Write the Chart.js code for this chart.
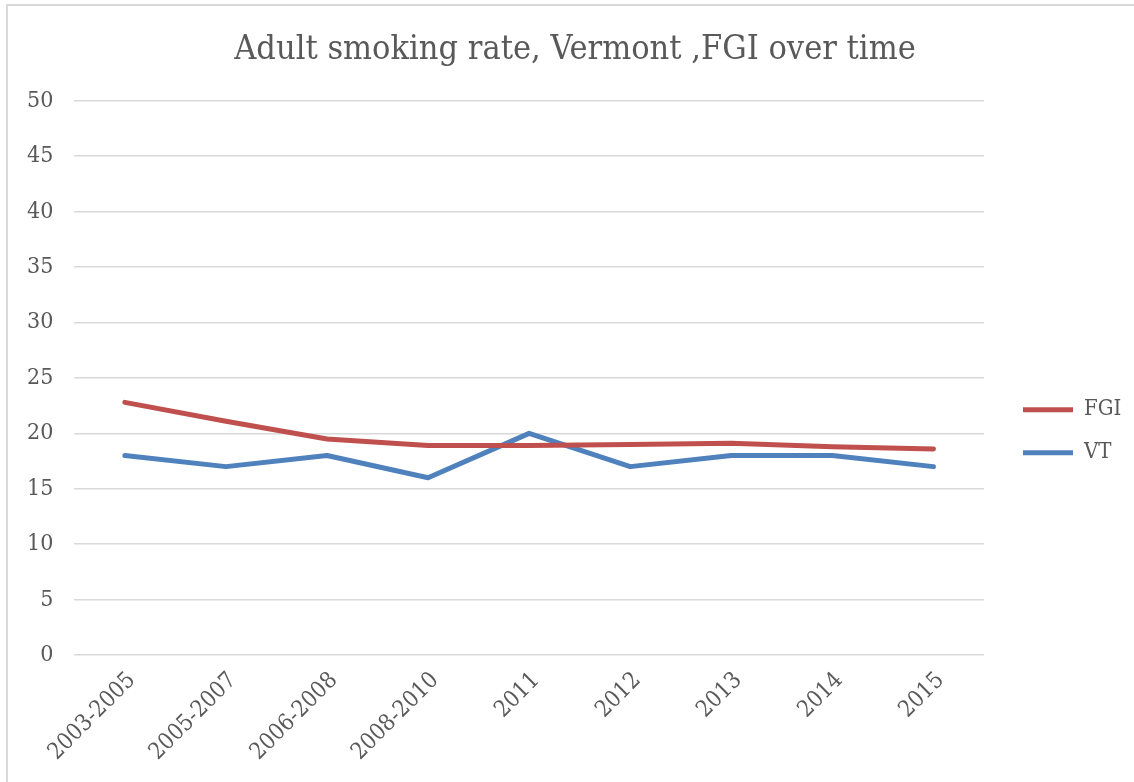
<!DOCTYPE html>
<html>
<head>
<meta charset="utf-8">
<script src="https://cdn.jsdelivr.net/npm/chart.js@4/dist/chart.umd.min.js"></script>
<style>
  html, body { margin: 0; padding: 0; background: #fff; }
  #wrap { position: absolute; left: 0; top: 0; width: 1134px; height: 782px; }
</style>
</head>
<body>
<div id="wrap"><canvas id="smoking_chart"></canvas></div>
<script>
// chart data
var periods = ["2003-2005", "2005-2007", "2006-2008", "2008-2010", "2011", "2012", "2013", "2014", "2015"];
var fgiRates = [22.8, 21.1, 19.5, 18.9, 18.9, 19.0, 19.1, 18.8, 18.6];
var vtRates = [18, 17, 18, 16, 20, 17, 18, 18, 17];
var yTicks = [0, 5, 10, 15, 20, 25, 30, 35, 40, 45, 50];

var serif = "'DejaVu Serif Condensed', 'Liberation Serif', serif";
var grey = "#595959";

// light frame round the chart, like the office export
var framePlugin = {
    id: 'frame',
    afterLayout: function(chart) {
        // title sits centred on the whole frame, not on the padded box
        chart.titleBlock.left = 26;
    },
    beforeDraw: function(chart) {
        var c = chart.ctx;
        c.save();
        c.strokeStyle = "#d9d9d9";
        c.lineWidth = 2;
        c.beginPath();
        c.moveTo(7, 782);
        c.lineTo(7, 5);
        c.lineTo(1134, 5);
        c.stroke();
        c.restore();
    }
};

var ctx = document.getElementById("smoking_chart").getContext("2d");

myChart = new Chart(ctx, {
    type: 'line',
    data: {
        labels: periods,
        datasets: [{
            label: "FGI",
            data: fgiRates,
            borderColor: "#C0504D",
            backgroundColor: "#C0504D",
            borderWidth: 5,
            borderCapStyle: 'round',
            borderJoinStyle: 'round',
            pointRadius: 0,
            tension: 0,
            fill: false
        }, {
            label: "VT",
            data: vtRates,
            borderColor: "#4F81BD",
            backgroundColor: "#4F81BD",
            borderWidth: 5,
            borderCapStyle: 'round',
            borderJoinStyle: 'round',
            pointRadius: 0,
            tension: 0,
            fill: false
        }]
    },
    options: {
        responsive: true,
        maintainAspectRatio: false,
        animation: false,
        layout: { padding: { left: 6, right: 10, top: 28, bottom: 12 } },
        plugins: {
            title: {
                display: true,
                text: "Adult smoking rate, Vermont ,FGI over time",
                color: grey,
                font: { family: serif, size: 34, weight: 'normal' },
                padding: { top: 2, bottom: 30 }
            },
            legend: {
                position: 'right',
                maxWidth: 122,
                title: { display: true, text: ' ', padding: { top: 25, bottom: 25 } },
                labels: {
                    usePointStyle: true,
                    pointStyle: 'line',
                    pointStyleWidth: 50,
                    color: grey,
                    font: { family: serif, size: 22 },
                    padding: 21
                }
            },
            tooltip: { enabled: false }
        },
        scales: {
            x: {
                offset: true,
                grid: { display: false },
                border: { display: false },
                ticks: {
                    color: grey,
                    font: { family: serif, size: 23 },
                    maxRotation: 45,
                    minRotation: 45,
                    padding: 4,
                    labelOffset: 7
                }
            },
            y: {
                min: 0,
                max: 50,
                afterBuildTicks: function(axis) {
                    axis.ticks = yTicks.map(function(v) { return { value: v }; });
                },
                grid: { color: "#d9d9d9", lineWidth: 1.5, drawTicks: false },
                border: { display: false },
                ticks: {
                    color: grey,
                    font: { family: serif, size: 23 },
                    padding: 21
                }
            },
            // empty right axis, only keeps a gap between plot and legend
            gap: {
                position: 'right',
                grid: { display: false },
                border: { display: false },
                ticks: { display: false },
                afterFit: function(axis) { axis.width = 18; }
            }
        }
    },
    plugins: [framePlugin]
});
</script>
</body>
</html>
